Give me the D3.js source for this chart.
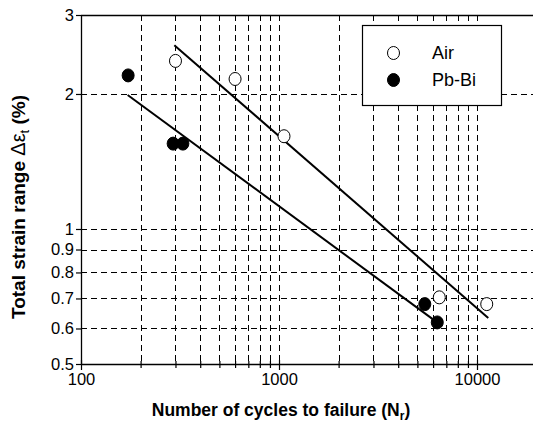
<!DOCTYPE html>
<html><head><meta charset="utf-8">
<script src="https://cdn.jsdelivr.net/npm/d3@7"></script>
<style>body{margin:0;background:#fff}svg{display:block}text{font-family:"Liberation Sans",Arial,sans-serif}</style>
</head><body><div id="chart"></div>
<script>
// Data
const airCycles = [300, 600, 1060, 6450, 11200];
const airStrain = [2.37, 2.16, 1.61, 0.704, 0.680];
const pbCycles = [173, 292, 327, 5450, 6300];
const pbStrain = [2.20, 1.55, 1.55, 0.680, 0.619];
const airFitX = [296, 11400];
const airFitY = [2.57, 0.633];
const pbFitX = [172, 6650];
const pbFitY = [1.99, 0.608];
const yTicks = [0.5, 0.6, 0.7, 0.8, 0.9, 1, 2, 3];
const yGrid = [0.6, 0.7, 0.8, 0.9, 1, 2];
const xTicks = [100,200,300,400,500,600,700,800,900,1000,2000,3000,4000,5000,6000,7000,8000,9000,10000,20000];
const xGrid = [200,300,400,500,600,700,800,900,1000,2000,3000,4000,5000,6000,7000,8000,9000,10000];
const xLabels = [100, 1000, 10000];
const seriesNames = ["Air", "Pb-Bi"];

const W = 533, H = 426;
const L = 81, T = 15, B = 364;
const x = d3.scaleLog().domain([100, 20000]).range([L, L + 198 * Math.log10(200)]);
const y = d3.scaleLog().domain([0.5, 3]).range([B, T]);

const svg = d3.select("#chart").append("svg").attr("width", W).attr("height", H);

// grid
const g = svg.append("g").attr("stroke", "#000").attr("stroke-width", 1).attr("stroke-dasharray", "6,4");
g.selectAll(".gx").data(xGrid).join("line")
  .attr("x1", d => Math.round(x(d)) + 0.5).attr("x2", d => Math.round(x(d)) + 0.5)
  .attr("y1", T).attr("y2", B);
g.selectAll(".gy").data(yGrid).join("line")
  .attr("x1", L).attr("x2", W)
  .attr("y1", d => Math.round(y(d)) + 0.5).attr("y2", d => Math.round(y(d)) + 0.5);

// frame top
svg.append("line").attr("x1", L).attr("x2", W).attr("y1", T + 0.5).attr("y2", T + 0.5).attr("stroke", "#000").attr("stroke-width", 1.3);

// x axis
const xa = svg.append("g").attr("transform", `translate(0,${B})`)
  .call(d3.axisBottom(x).tickValues(xTicks).tickSize(4).tickSizeOuter(0)
    .tickFormat(d => xLabels.includes(d) ? d3.format("d")(d) : ""));
xa.select(".domain").attr("stroke-width", 1.3).attr("d", `M${L},0.5H${W}`);
xa.selectAll(".tick line").attr("y1", d => xLabels.includes(d) ? -4 : -3).attr("y2", d => xLabels.includes(d) ? 6 : 4).attr("stroke-width", 1.2);
xa.selectAll(".tick text").attr("font-size", 16.5).attr("font-family", "Liberation Sans, Arial, sans-serif").attr("fill", "#000").attr("dy", "1.05em").attr("y", 4);

// y axis
const ya = svg.append("g").attr("transform", `translate(${L},0)`)
  .call(d3.axisLeft(y).tickValues(yTicks).tickSize(5).tickSizeOuter(0).tickFormat(d => String(d)));
ya.select(".domain").attr("stroke-width", 1.3);
ya.selectAll(".tick line").attr("stroke-width", 1.2);
ya.selectAll(".tick text").attr("font-size", 16.5).attr("font-family", "Liberation Sans, Arial, sans-serif").attr("fill", "#000").attr("x", -7);

// fit lines
const line = d3.line().x(d => x(d[0])).y(d => y(d[1]));
svg.append("path").attr("d", line(d3.zip(airFitX, airFitY))).attr("stroke", "#000").attr("stroke-width", 2).attr("fill", "none");
svg.append("path").attr("d", line(d3.zip(pbFitX, pbFitY))).attr("stroke", "#000").attr("stroke-width", 2).attr("fill", "none");

// points
svg.append("g").selectAll("ellipse").data(d3.zip(airCycles, airStrain)).join("ellipse")
  .attr("cx", d => x(d[0])).attr("cy", d => y(d[1])).attr("rx", 6).attr("ry", 6.5)
  .attr("fill", "#fff").attr("stroke", "#000").attr("stroke-width", 1);
svg.append("g").selectAll("ellipse").data(d3.zip(pbCycles, pbStrain)).join("ellipse")
  .attr("cx", d => x(d[0])).attr("cy", d => y(d[1])).attr("rx", 6).attr("ry", 6.5)
  .attr("fill", "#000").attr("stroke", "#000").attr("stroke-width", 1);

// legend
const lg = svg.append("g");
lg.append("rect").attr("x", 362.5).attr("y", 25.5).attr("width", 139).attr("height", 80).attr("fill", "#fff").attr("stroke", "#000").attr("stroke-width", 1.2);
seriesNames.forEach((n, i) => {
  const cy = 53 + i * 27;
  lg.append("ellipse").attr("cx", 393.5).attr("cy", cy).attr("rx", 6).attr("ry", 6.5)
    .attr("fill", i === 0 ? "#fff" : "#000").attr("stroke", "#000").attr("stroke-width", 1);
  lg.append("text").attr("x", 432).attr("y", cy + 6).attr("font-size", 18).text(n);
});

// axis titles
const xt = svg.append("text").attr("x", 281).attr("y", 416).attr("text-anchor", "middle")
  .attr("font-size", 17.5).attr("font-weight", "bold");
xt.append("tspan").text("Number of cycles to failure (N");
xt.append("tspan").attr("font-size", 12).attr("dy", 4).text("r");
xt.append("tspan").attr("dy", -4).text(")");

const yt = svg.append("text").attr("transform", "translate(25,207) rotate(-90)").attr("text-anchor", "middle")
  .attr("font-size", 19).attr("font-weight", "bold");
yt.append("tspan").text("Total strain range  ");
yt.append("tspan").attr("font-weight", "normal").attr("font-size", 20).text("Δε");
yt.append("tspan").attr("font-weight", "normal").attr("font-size", 13).attr("dy", 4).text("t");
yt.append("tspan").attr("dy", -4).text(" (%)");
</script></body></html>
